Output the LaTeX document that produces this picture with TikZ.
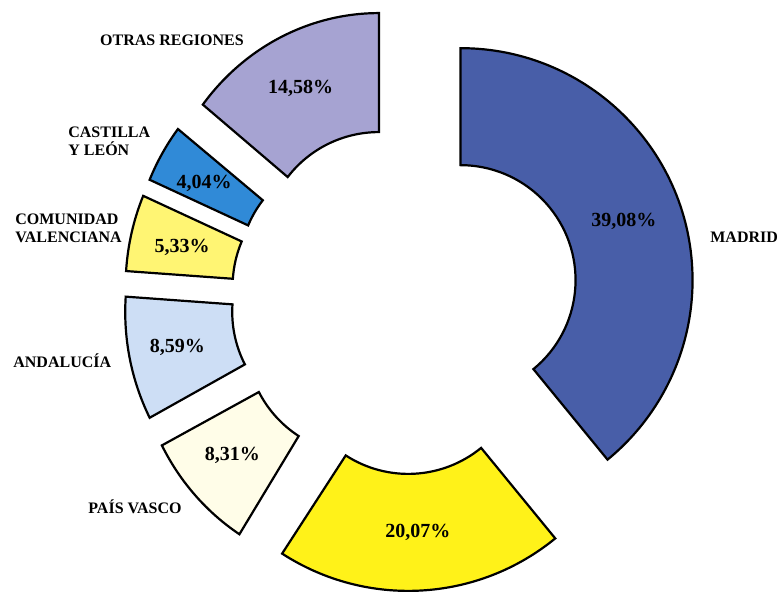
\documentclass[tikz,border=0pt]{standalone}
\usepackage{fontspec}
\setmainfont{Liberation Serif}
\usepackage{tikz}

\definecolor{madrid}{RGB}{72,94,168}
\definecolor{amarillo}{RGB}{255,242,25}
\definecolor{vasco}{RGB}{255,253,232}
\definecolor{andalucia}{RGB}{205,222,245}
\definecolor{valencia}{RGB}{255,245,115}
\definecolor{castilla}{RGB}{48,138,215}
\definecolor{otras}{RGB}{166,163,210}

\begin{document}
\begin{tikzpicture}[x=0.5pt,y=0.5pt,
  slice/.style={draw=black,line width=1.1pt},
  pct/.style={font=\bfseries\fontsize{10}{12}\selectfont},
  region/.style={font=\bfseries\fontsize{8}{9}\selectfont,align=left,inner sep=0pt}]
\useasboundingbox (-405,-294) rectangle (373,300);
\draw[slice,fill=madrid,shift={(19.655:59)}] (90:232) arc[start angle=90,end angle=-50.688,radius=116pt] -- (-50.688:115) arc[start angle=-50.688,end angle=90,radius=57.5pt] -- cycle;
\draw[slice,fill=amarillo,shift={(-86.815:59)}] (-50.688:232) arc[start angle=-50.688,end angle=-122.94,radius=116pt] -- (-122.94:115) arc[start angle=-122.94,end angle=-50.688,radius=57.5pt] -- cycle;
\draw[slice,fill=vasco,shift={(-137.9:59)}] (-122.94:112pt and 116pt) arc[start angle=-122.94,end angle=-152.856,x radius=112pt,y radius=116pt] -- (-152.856:115) arc[start angle=-152.856,end angle=-122.94,radius=57.5pt] -- cycle;
\draw[slice,fill=andalucia,shift={(-168.32:59)}] (-152.856:111pt and 116pt) arc[start angle=-152.856,end angle=-183.78,x radius=111pt,y radius=116pt] -- (-183.78:115) arc[start angle=-183.78,end angle=-152.856,radius=57.5pt] -- cycle;
\draw[slice,fill=valencia,shift={(-193.375:59)}] (-183.78:111pt and 116pt) arc[start angle=-183.78,end angle=-202.968,x radius=111pt,y radius=116pt] -- (-202.968:115) arc[start angle=-202.968,end angle=-183.78,radius=57.5pt] -- cycle;
\draw[slice,fill=castilla,shift={(-210.24:59)}] (-202.968:111pt and 116pt) arc[start angle=-202.968,end angle=-217.512,x radius=111pt,y radius=116pt] -- (-217.512:115) arc[start angle=-217.512,end angle=-202.968,radius=57.5pt] -- cycle;
\draw[slice,fill=otras,shift={(-243.756:59)}] (-217.512:111pt and 117pt) arc[start angle=-217.512,end angle=-270,x radius=111pt,y radius=117pt] -- (-270:115) arc[start angle=-270,end angle=-217.512,radius=57.5pt] -- cycle;
\node[pct] (pmadrid) at (19.655:232.5) {39,08\%};
\node[pct] (pamarillo) at (-86.815:232.5) {20,07\%};
\node[pct] (pvasco) at (-137.9:232.5) {8,31\%};
\node[pct] (pandalucia) at (-168.32:232.5) {8,59\%};
\node[pct] (pvalencia) at (-193.375:229) {5,33\%};
\node[pct] (pcastilla) at (-210.24:232.5) {4,04\%};
\node[pct] (potras) at (-243.756:236) {14,58\%};
\node[region,anchor=west] (madrid) at (305,63) {MADRID};
\node[region,anchor=west] (vasco) at (-317,-207) {PAÍS VASCO};
\node[region,anchor=west] (andalucia) at (-392,-61) {ANDALUCÍA};
\node[region,anchor=west] (valencia) at (-390,72) {COMUNIDAD\\VALENCIANA};
\node[region,anchor=west] (castilla) at (-337,159) {CASTILLA\\Y LEÓN};
\node[region] (otras) at (-233,260) {OTRAS REGIONES};
\end{tikzpicture}
\end{document}
